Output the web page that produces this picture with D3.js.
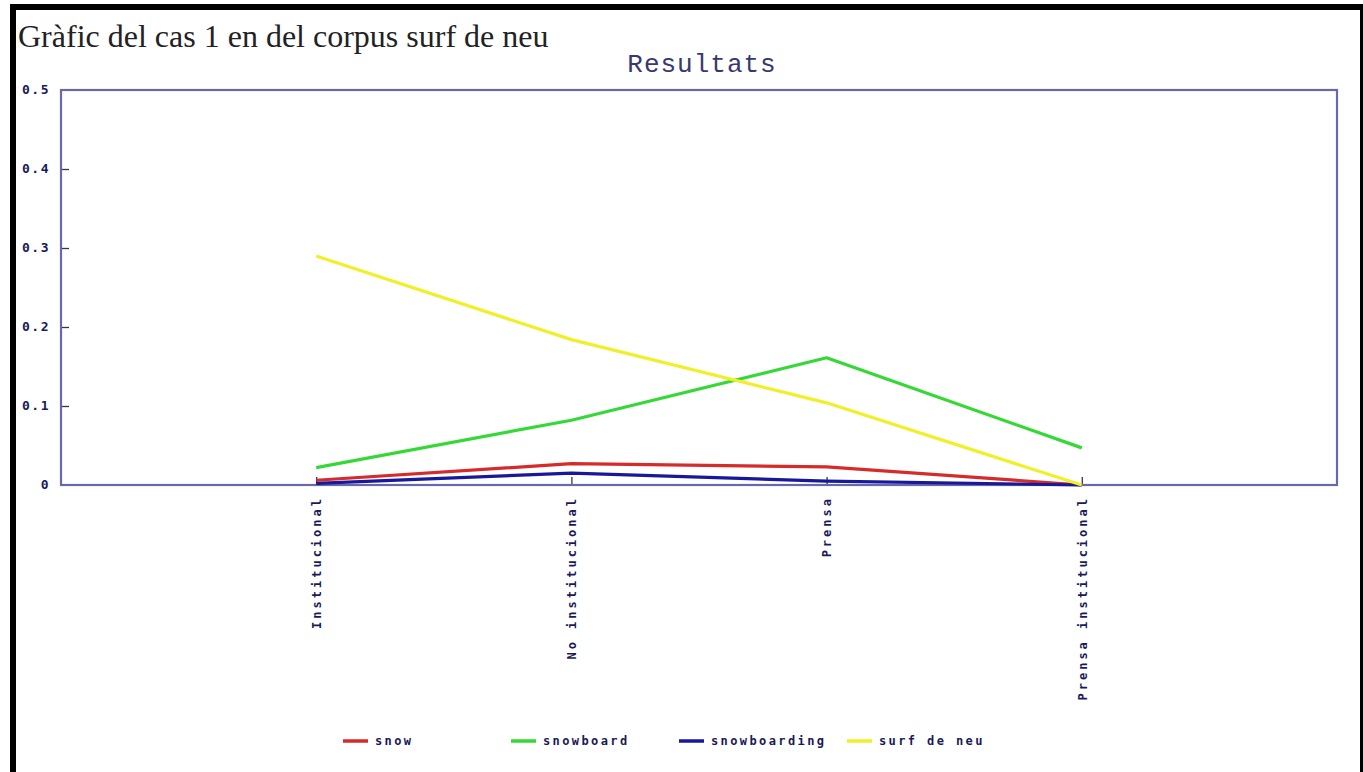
<!DOCTYPE html>
<html>
<head>
<meta charset="utf-8">
<script src="https://cdn.jsdelivr.net/npm/d3@7"></script>
<style>
  html, body { margin: 0; padding: 0; background: #fff; }
  svg { display: block; }
</style>
</head>
<body>
<svg id="chart" width="1363" height="772"></svg>
<script>
// ---- data ----
const categories = ["Institucional", "No institucional", "Prensa", "Prensa institucional"];
const seriesNames = ["snow", "snowboard", "snowboarding", "surf de neu"];
const snowValues = [0.006, 0.027, 0.023, 0.0];
const snowboardValues = [0.022, 0.082, 0.161, 0.047];
const snowboardingValues = [0.002, 0.015, 0.005, 0.0];
const surfDeNeuValues = [0.290, 0.184, 0.104, 0.0];
const yTicks = [0, 0.1, 0.2, 0.3, 0.4, 0.5];
const yTickLabels = ["0", "0.1", "0.2", "0.3", "0.4", "0.5"];
const titleText = "Gràfic del cas 1 en del corpus surf de neu";
const chartTitle = "Resultats";

const seriesColors = ["#d62b2b", "#35d935", "#18189a", "#f0f02a"];
const series = [snowValues, snowboardValues, snowboardingValues, surfDeNeuValues]
  .map((vals, i) => ({ name: seriesNames[i], color: seriesColors[i], values: vals }));

const svg = d3.select("#chart");
const W = 1363, H = 772;

// frame
svg.append("rect").attr("x", 10).attr("y", 4).attr("width", 6).attr("height", H).attr("fill", "#000");
svg.append("rect").attr("x", 10).attr("y", 4).attr("width", W - 10).attr("height", 6).attr("fill", "#000");
svg.append("rect").attr("x", W - 3).attr("y", 4).attr("width", 3).attr("height", H).attr("fill", "#000");

// page title
svg.append("text").attr("x", 18).attr("y", 47)
  .attr("font-family", "'Liberation Serif', 'Times New Roman', serif")
  .attr("font-size", 32).attr("fill", "#222").text(titleText);

const margin = { left: 61, right: 1337, top: 90, bottom: 485 };

// chart title
svg.append("text").attr("x", (margin.left + margin.right) / 2 + 3).attr("y", 72)
  .attr("text-anchor", "middle")
  .attr("font-family", "'Liberation Mono', 'DejaVu Sans Mono', monospace")
  .attr("font-size", 26).attr("letter-spacing", 1).attr("fill", "#38386e").text(chartTitle);

const x = d3.scalePoint().domain(["", ...categories, " "]).range([margin.left, margin.right]);
const y = d3.scaleLinear().domain([0, 0.5]).range([margin.bottom, margin.top]);

const axisColor = "#6868aa";
const labelColor = "#1a1a58";

// y axis
const yAxis = svg.append("g").attr("transform", `translate(${margin.left},0)`)
  .call(d3.axisLeft(y).tickValues(yTicks).tickSize(-8).tickPadding(11)
    .tickFormat((d, i) => yTickLabels[i]));
yAxis.select(".domain").remove();
yAxis.selectAll(".tick line").attr("stroke", "#333355").attr("stroke-width", 1.3);
yAxis.selectAll(".tick text").attr("font-family", "'DejaVu Sans Mono', monospace")
  .attr("font-size", 13).attr("font-weight", "bold").attr("fill", labelColor)
  .attr("letter-spacing", 1.5).attr("dy", "0.3em");
yAxis.selectAll(".tick").filter(d => d === 0.5 || d === 0).select("line").remove();

// x axis
const xAxis = svg.append("g").attr("transform", `translate(0,${margin.bottom})`)
  .call(d3.axisBottom(x).tickValues(categories).tickSize(-8).tickPadding(0));
xAxis.select(".domain").remove();
xAxis.selectAll(".tick line").attr("stroke", "#333355").attr("stroke-width", 1.3);
xAxis.selectAll(".tick text")
  .attr("transform", "rotate(-90)")
  .attr("text-anchor", "end")
  .attr("x", -11).attr("y", 0).attr("dy", "0.35em")
  .attr("font-family", "'DejaVu Sans Mono', monospace")
  .attr("font-size", 12).attr("font-weight", "bold").attr("letter-spacing", 3)
  .attr("fill", labelColor);

// plot box
svg.append("rect").attr("x", margin.left).attr("y", margin.top)
  .attr("width", margin.right - margin.left).attr("height", margin.bottom - margin.top)
  .attr("fill", "none").attr("stroke", axisColor).attr("stroke-width", 2.2);

// lines
const line = d3.line().x((d, i) => x(categories[i])).y(d => y(d));
svg.append("g").selectAll("path").data(series).join("path")
  .attr("d", d => line(d.values))
  .attr("fill", "none").attr("stroke", d => d.color)
  .attr("stroke-width", 3.2).attr("stroke-linejoin", "round");

// legend
const legendX = d3.scaleBand().domain(seriesNames).range([343, 1015]);
const lg = svg.append("g").selectAll("g").data(series).join("g")
  .attr("transform", d => `translate(${legendX(d.name)},741)`);
lg.append("line").attr("x1", 0).attr("x2", 25).attr("y1", 0).attr("y2", 0)
  .attr("stroke", d => d.color).attr("stroke-width", 3.5);
lg.append("text").attr("x", 32).attr("y", 0).attr("dy", "0.32em")
  .attr("font-family", "'DejaVu Sans Mono', monospace")
  .attr("font-size", 12).attr("font-weight", "bold").attr("letter-spacing", 2.4)
  .attr("fill", labelColor)
  .text(d => d.name);
</script>
</body>
</html>
